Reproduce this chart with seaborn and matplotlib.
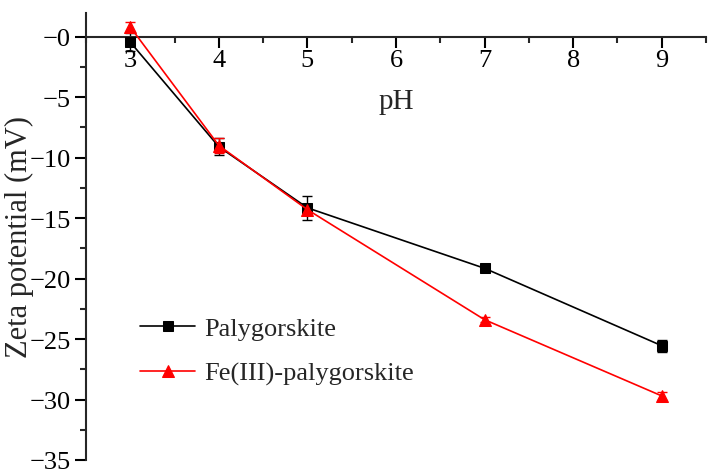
import matplotlib
matplotlib.use("Agg")
import matplotlib.pyplot as plt
import seaborn as sns
import pandas as pd
import numpy as np
from matplotlib.ticker import MultipleLocator, FixedLocator

ph = [3, 4, 5, 7, 9]
paly = [-0.45, -9.1, -14.15, -19.15, -25.55]
paly_err = [0.75, 0.7, 1.0, 0.2, 0.5]
fe_paly = [0.8, -9.0, -14.3, -23.4, -29.7]
fe_err = [0.4, 0.6, 0.3, 0.2, 0.3]
series_names = ["Palygorskite", "Fe(III)-palygorskite"]
y_ticks = [-35, -30, -25, -20, -15, -10, -5, 0]
y_ticklabels = ["\u221235", "\u221230", "\u221225", "\u221220", "\u221215", "\u221210", "\u22125", "\u22120"]
x_ticks = [3, 4, 5, 6, 7, 8, 9]

sns.set_style("ticks")
plt.rcParams["font.family"] = ["Liberation Serif", "DejaVu Serif"]

fig = plt.figure(figsize=(7.15, 4.77), dpi=100)
W, H = 715, 477
x0, x1 = 86, 706
y_top, y_bot = 13.5, 461
ax = fig.add_axes([x0 / W, 1 - y_bot / H, (x1 - x0) / W, (y_bot - y_top) / H])

df = pd.DataFrame({"pH": ph * 2,
                   "zeta": paly + fe_paly,
                   "err": paly_err + fe_err,
                   "sample": [series_names[0]] * len(ph) + [series_names[1]] * len(ph)})

colors = {series_names[0]: "black", series_names[1]: "#ff0000"}
markers = {series_names[0]: "s", series_names[1]: "^"}
msizes = {series_names[0]: 7.5, series_names[1]: 8.5}

for name in series_names:
    sub = df[df["sample"] == name]
    ax.errorbar(sub["pH"], sub["zeta"], yerr=sub["err"], fmt="none",
                ecolor=colors[name], elinewidth=1.0, capsize=3.8, capthick=1.0, zorder=2)
    sns.lineplot(data=sub, x="pH", y="zeta", ax=ax, color=colors[name],
                 marker=markers[name], markersize=msizes[name], markeredgecolor=colors[name],
                 linewidth=1.2, label=name, zorder=3)

ax.set_xlim(2.5, 9.5)
ax.set_ylim(-35, 2)

ax.spines["top"].set_visible(False)
ax.spines["right"].set_visible(False)
ax.spines["bottom"].set_position(("data", 0))
ax.spines["bottom"].set_linewidth(1.5)
ax.spines["left"].set_linewidth(1.5)

ax.xaxis.set_major_locator(FixedLocator(x_ticks))
ax.xaxis.set_minor_locator(MultipleLocator(0.5))
ax.yaxis.set_major_locator(FixedLocator(y_ticks))
ax.set_yticklabels(y_ticklabels)
ax.yaxis.set_minor_locator(MultipleLocator(2.5))

ax.tick_params(axis="both", which="major", direction="out", length=8, width=1.5, labelsize=19, colors="black")
ax.tick_params(axis="both", which="minor", direction="out", length=4.5, width=1.5)
ax.tick_params(axis="x", pad=1)
ax.tick_params(axis="y", pad=3)

ax.set_xlabel("")
ax.set_ylabel("Zeta potential (mV)", fontsize=22, va="center")
ax.yaxis.set_label_coords((19 - x0) / (x1 - x0), 0.5)
ax.text(6.0, -5.3, "pH", fontsize=21, ha="center", va="center")

leg = ax.legend(loc="upper left", bbox_to_anchor=((140 - x0) / (x1 - x0), (y_bot - 318) / (y_bot - y_top)),
                frameon=False, fontsize=19, handlelength=2.1, handletextpad=0.35,
                labelspacing=0.8, borderaxespad=0, borderpad=0)

fig.savefig("out.png", dpi=100)
